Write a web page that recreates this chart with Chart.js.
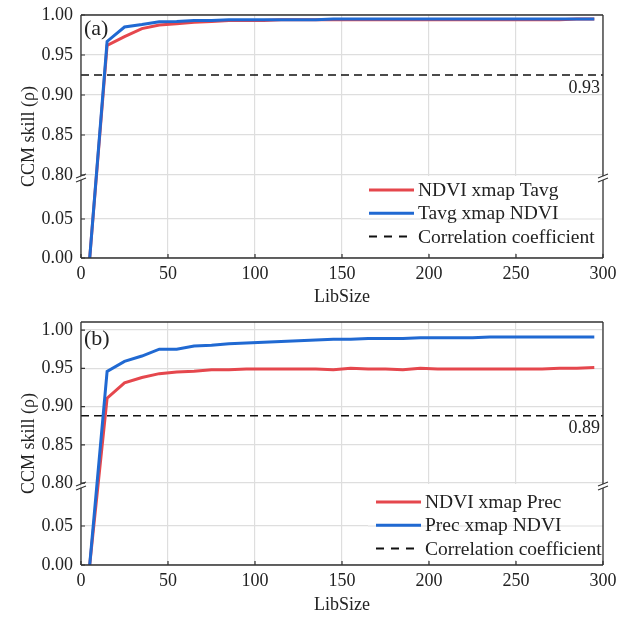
<!DOCTYPE html>
<html lang="en">
<head>
<meta charset="UTF-8" />
<title>CCM skill</title>
<script src="https://cdn.jsdelivr.net/npm/chart.js"></script>
<style>
  body { margin: 0; background: #fff; }
  canvas { display: block; }
</style>
</head>
<body>
<canvas id="chartA" width="633" height="311"></canvas>
<canvas id="chartB" width="633" height="311"></canvas>
<script>
// library sizes used for every series
const libSize = [5, 15, 25, 35, 45, 55, 65, 75, 85, 95, 105, 115, 125, 135, 145,
  155, 165, 175, 185, 195, 205, 215, 225, 235, 245, 255, 265, 275, 285, 295];

// panel (a)
const ndviXmapTavg = [0, 0.962, 0.973, 0.983, 0.9875, 0.989, 0.991, 0.992, 0.993, 0.993,
  0.993, 0.994, 0.994, 0.994, 0.994, 0.994, 0.994, 0.994, 0.994, 0.994,
  0.994, 0.994, 0.994, 0.994, 0.994, 0.994, 0.994, 0.994, 0.995, 0.995];
const tavgXmapNdvi = [0, 0.967, 0.985, 0.988, 0.9915, 0.992, 0.993, 0.993, 0.994, 0.994,
  0.994, 0.994, 0.994, 0.994, 0.995, 0.995, 0.995, 0.995, 0.995, 0.995,
  0.995, 0.995, 0.995, 0.995, 0.995, 0.995, 0.995, 0.995, 0.995, 0.995];
const corrTavg = 0.925;

// panel (b)
const ndviXmapPrec = [0, 0.911, 0.931, 0.938, 0.943, 0.945, 0.946, 0.948, 0.948, 0.949,
  0.949, 0.949, 0.949, 0.949, 0.948, 0.950, 0.949, 0.949, 0.948, 0.950,
  0.949, 0.949, 0.949, 0.949, 0.949, 0.949, 0.949, 0.950, 0.950, 0.951];
const precXmapNdvi = [0, 0.946, 0.959, 0.966, 0.975, 0.975, 0.979, 0.980, 0.982, 0.983,
  0.984, 0.985, 0.986, 0.987, 0.988, 0.988, 0.989, 0.989, 0.989, 0.990,
  0.990, 0.990, 0.990, 0.991, 0.991, 0.991, 0.991, 0.991, 0.991, 0.991];
const corrPrec = 0.888;

const xTicks = [0, 50, 100, 150, 200, 250, 300];
const yTicks = [0, 0.05, 0.80, 0.85, 0.90, 0.95, 1.00];

const FONT = "'Liberation Serif', 'Times New Roman', serif";
const RED = '#e5474d';
const BLUE = '#2069d2';
const GRID = '#dedede';
const INK = '#222';

// linear scale with a gap between breakLow and breakHigh
class BrokenScale extends Chart.LinearScale {
  toDecimal(v) {
    const o = this.options;
    if (v <= o.breakLow) return (v - this.min) / (o.breakLow - this.min) * o.breakFrac;
    if (v >= o.breakHigh) return o.breakFrac + (v - o.breakHigh) / (this.max - o.breakHigh) * (1 - o.breakFrac);
    return o.breakFrac;
  }
  getPixelForValue(v) {
    if (v === null || isNaN(v)) return NaN;
    return this.getPixelForDecimal(this.toDecimal(v));
  }
  getValueForPixel(px) {
    const o = this.options;
    const d = this.getDecimalForPixel(px);
    if (d <= o.breakFrac) return this.min + d / o.breakFrac * (o.breakLow - this.min);
    return o.breakHigh + (d - o.breakFrac) / (1 - o.breakFrac) * (this.max - o.breakHigh);
  }
}
BrokenScale.id = 'broken';
BrokenScale.defaults = Chart.LinearScale.defaults;
Chart.register(BrokenScale);

function decoPlugin(p) {
  return {
    id: 'deco',
    afterDraw(chart) {
      const ctx = chart.ctx;
      const a = chart.chartArea;
      const xs = chart.scales.x;
      const ys = chart.scales.y;
      const bY = ys.getPixelForDecimal(ys.options.breakFrac) - 2;
      const y80 = ys.getPixelForValue(0.80);
      ctx.save();

      // legend (white box, horizontal grid lines stay visible)
      const lx = p.legendX, ly = p.legendTop, lh = 23.3;
      ctx.fillStyle = '#fff';
      ctx.fillRect(lx - 8, y80 + 1, a.right - lx + 8, a.bottom - y80 - 6);
      ctx.strokeStyle = GRID;
      ctx.lineWidth = 1.2;
      yTicks.forEach(v => {
        const y = ys.getPixelForValue(v);
        if (y > y80 + 1 && y < a.bottom - 5) {
          ctx.beginPath(); ctx.moveTo(lx - 8, y); ctx.lineTo(a.right, y); ctx.stroke();
        }
      });
      const items = [
        { label: p.labels[0], color: RED, dash: [] },
        { label: p.labels[1], color: BLUE, dash: [] },
        { label: 'Correlation coefficient', color: '#111', dash: [8, 7] }
      ];
      ctx.font = '19.5px ' + FONT;
      ctx.textBaseline = 'middle';
      ctx.textAlign = 'left';
      items.forEach((it, i) => {
        const y = ly + i * lh;
        ctx.strokeStyle = it.color;
        ctx.lineWidth = it.dash.length ? 2 : 3;
        ctx.setLineDash(it.dash);
        ctx.beginPath(); ctx.moveTo(lx, y); ctx.lineTo(lx + 45, y); ctx.stroke();
        ctx.setLineDash([]);
        ctx.fillStyle = INK;
        ctx.fillText(it.label, lx + 49, y + 1);
      });

      // frame with break
      ctx.strokeStyle = '#333';
      ctx.lineWidth = 1.3;
      ctx.beginPath();
      ctx.moveTo(a.left, a.top); ctx.lineTo(a.right, a.top);
      ctx.moveTo(a.left, a.bottom); ctx.lineTo(a.right, a.bottom);
      [a.left, a.right].forEach(x => {
        ctx.moveTo(x, a.top); ctx.lineTo(x, bY - 2);
        ctx.moveTo(x, bY + 2); ctx.lineTo(x, a.bottom);
      });
      ctx.stroke();
      ctx.lineWidth = 1.1;
      ctx.beginPath();
      [a.left, a.right].forEach(x => {
        [bY - 2, bY + 2].forEach(y => {
          ctx.moveTo(x - 5, y + 2); ctx.lineTo(x + 5, y - 2);
        });
      });
      ctx.stroke();

      // inward tick marks
      ctx.lineWidth = 1.2;
      ctx.beginPath();
      xTicks.forEach(v => {
        const x = xs.getPixelForValue(v);
        ctx.moveTo(x, a.bottom); ctx.lineTo(x, a.bottom - 4);
      });
      yTicks.forEach(v => {
        const y = ys.getPixelForValue(v);
        ctx.moveTo(a.left, y); ctx.lineTo(a.left + 4, y);
      });
      ctx.stroke();

      // correlation label and panel tag
      ctx.fillStyle = INK;
      ctx.font = '18px ' + FONT;
      ctx.textAlign = 'right';
      ctx.fillText(p.corrText, a.right - 3, ys.getPixelForValue(p.corr) + 13);
      ctx.textAlign = 'left';
      ctx.font = '22px ' + FONT;
      ctx.fillText(p.tag, a.left + 3, ys.getPixelForValue(1.0) + p.tagDy);
      ctx.restore();
    }
  };
}

function makeChart(id, p) {
  const data = {
    datasets: [
      { label: p.labels[1], data: libSize.map((x, i) => ({ x: x, y: p.blue[i] })),
        borderColor: BLUE, borderWidth: 3, pointRadius: 0, order: 0 },
      { label: p.labels[0], data: libSize.map((x, i) => ({ x: x, y: p.red[i] })),
        borderColor: RED, borderWidth: 3, pointRadius: 0, order: 1 },
      { label: 'Correlation coefficient', data: [{ x: 0, y: p.corr }, { x: 300, y: p.corr }],
        borderColor: '#111', borderWidth: 1.4, borderDash: [8, 5], pointRadius: 0, order: 2 }
    ]
  };
  return new Chart(document.getElementById(id), {
    type: 'line',
    data: data,
    options: {
      responsive: false,
      animation: false,
      layout: { padding: { top: p.padTop, right: 30, left: 0, bottom: 0 } },
      plugins: { legend: { display: false }, tooltip: { enabled: false } },
      scales: {
        x: {
          type: 'linear', min: 0, max: 300,
          afterBuildTicks: s => { s.ticks = xTicks.map(v => ({ value: v })); },
          afterFit: s => { s.height = p.xHeight; s.paddingLeft = 0; s.paddingRight = 0; },
          grid: { color: GRID, lineWidth: 1.2, drawTicks: false },
          border: { display: false },
          ticks: { color: INK, font: { family: FONT, size: 18 }, padding: 5, maxRotation: 0, autoSkip: false },
          title: { display: true, text: 'LibSize', color: INK, font: { family: FONT, size: 18 },
            padding: { top: 0, bottom: p.titlePad } }
        },
        y: {
          type: 'broken', min: 0, max: p.yMax,
          breakLow: p.breakLow, breakHigh: p.breakHigh, breakFrac: p.breakFrac,
          afterBuildTicks: s => { s.ticks = yTicks.map(v => ({ value: v })); },
          afterFit: s => { s.width = 81; s.paddingTop = 0; s.paddingBottom = 0; },
          grid: { color: GRID, lineWidth: 1.2, drawTicks: false },
          border: { display: false },
          ticks: { color: INK, font: { family: FONT, size: 18 }, padding: 8,
            callback: v => v.toFixed(2) },
          title: { display: true, text: 'CCM skill (ρ)', color: INK, font: { family: FONT, size: 18 },
            padding: { top: 18, bottom: 0 } }
        }
      }
    },
    plugins: [decoPlugin(p)]
  });
}

makeChart('chartA', {
  red: ndviXmapTavg, blue: tavgXmapNdvi, corr: corrTavg, corrText: '0.93',
  labels: ['NDVI xmap Tavg', 'Tavg xmap NDVI'], tag: '(a)', tagDy: 14,
  padTop: 15, xHeight: 53, titlePad: 3,
  yMax: 1.0, breakLow: 0.1, breakHigh: 0.79375, breakFrac: 78 / 243,
  legendX: 369, legendTop: 190
});

makeChart('chartB', {
  red: ndviXmapPrec, blue: precXmapNdvi, corr: corrPrec, corrText: '0.89',
  labels: ['NDVI xmap Prec', 'Prec xmap NDVI'], tag: '(b)', tagDy: 9,
  padTop: 11, xHeight: 57, titlePad: 6,
  yMax: 1.0105, breakLow: 0.0987, breakHigh: 0.7935, breakFrac: 77 / 243,
  legendX: 376, legendTop: 191
});
</script>
</body>
</html>
